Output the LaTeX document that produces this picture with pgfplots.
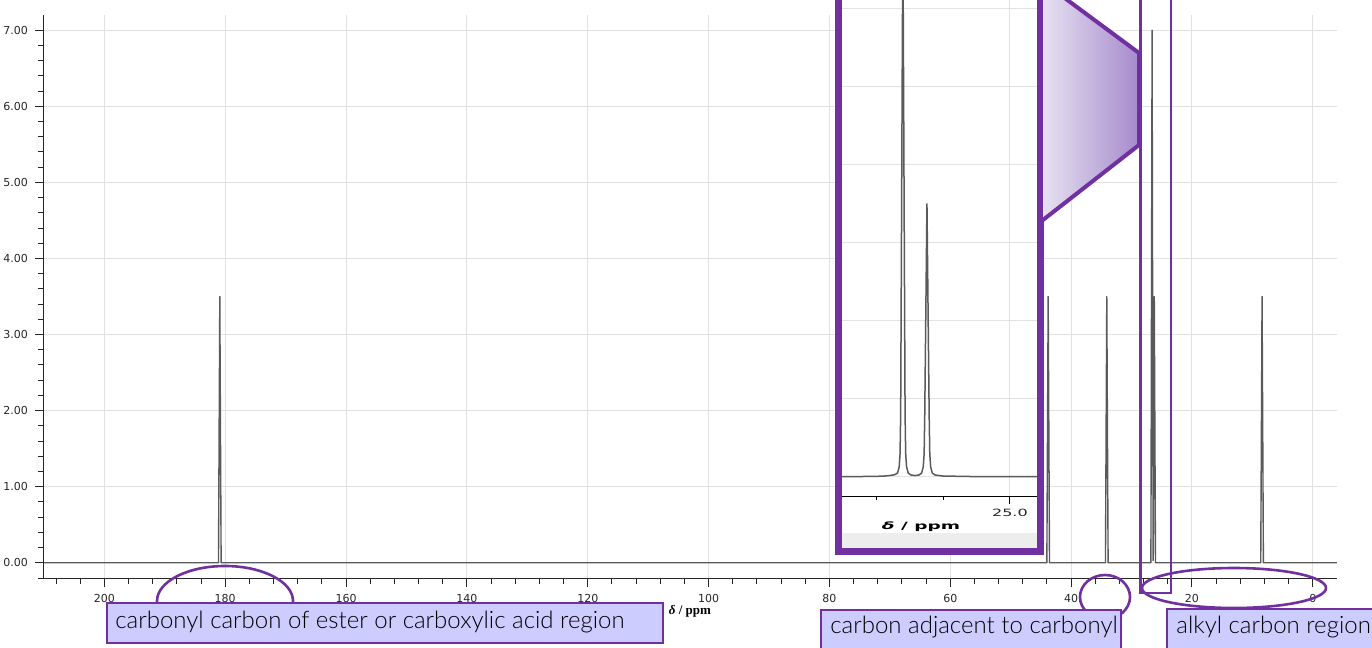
\documentclass[border=0pt]{standalone}
\usepackage{graphicx}
\usepackage{pgfplots}
\pgfplotsset{compat=1.18}
\usepackage{fontspec}
\setmainfont{Lato}
\newfontfamily\boxfont{Lato Light}
\newfontfamily\tickfont{DejaVu Sans}
\newfontfamily\labelserif{Liberation Serif}

\definecolor{annot}{RGB}{112,48,160}
\definecolor{boxfill}{RGB}{204,204,255}
\definecolor{spec}{RGB}{90,90,90}
\definecolor{gridc}{RGB}{226,226,226}
\definecolor{lavl}{RGB}{230,225,241}
\definecolor{lavr}{RGB}{166,138,204}

\begin{document}
\begin{tikzpicture}
\useasboundingbox (0,0) rectangle (686pt,-324pt);
\clip (0,0) rectangle (686pt,-324pt);

% 13C spectrum, full range
\begin{axis}[
  at={(22pt,-289pt)}, anchor=south west,
  width=646.5pt, height=281.5pt, scale only axis,
  xmin=-4, xmax=210, ymin=-0.2, ymax=7.2,
  x dir=reverse,
  axis x line*=bottom, axis y line*=left,
  axis line style={black!85, line width=0.5pt},
  xtick={0,20,...,200},
  minor xtick={4,8,...,208},
  ytick={0,1,...,7},
  minor ytick={-0.2,0.2,0.4,0.6,0.8,1.2,1.4,1.6,1.8,2.2,2.4,2.6,2.8,3.2,3.4,3.6,3.8,4.2,4.4,4.6,4.8,5.2,5.4,5.6,5.8,6.2,6.4,6.6,6.8},
  tick align=outside,
  major tick length=4.5pt, minor tick length=3pt,
  every tick/.style={black!85, line width=0.5pt},
  xmajorgrids, ymajorgrids,
  major grid style={gridc, line width=0.5pt},
  tick label style={font=\tickfont\fontsize{5.5}{6}\selectfont, text=black!85},
  /pgf/number format/assume math mode=true,
  yticklabel style={/pgf/number format/fixed, /pgf/number format/fixed zerofill, /pgf/number format/precision=2},
  xticklabel style={/pgf/number format/fixed, /pgf/number format/precision=0},
]
\addplot[spec, line width=0.7pt, line join=round] coordinates {
  (210,0) (181.12,0) (180.9,3.5) (180.68,0)
  (44.02,0) (43.8,3.5) (43.58,0)
  (34.32,0) (34.1,3.5) (33.88,0)
  (26.8,0) (26.6,7.0) (26.43,0.03) (26.42,0.03) (26.24,3.5) (26.04,0)
  (8.62,0) (8.4,3.5) (8.18,0) (-4,0)
};
\end{axis}

% expanded view panel
\begin{scope}[x=0.5pt,y=-0.5pt]
  \fill[white] (838,-40) rectangle (1041,552);
  \fill[black!7] (842,533) rectangle (1038,549);
\end{scope}

\begin{axis}[
  at={(421pt,-248pt)}, anchor=south west,
  width=98pt, height=258pt, scale only axis,
  xmin=24.58, xmax=27.51, x dir=reverse,
  ymin=-0.244, ymax=6.37,
  axis x line*=bottom, axis y line*=left,
  y axis line style={draw=none},
  x axis line style={black, line width=0.5pt},
  xtick={25}, minor xtick={26,27},
  xticklabels={\scalebox{1.6}[1]{25.0}},
  ytick={0,...,6}, yticklabels={}, ytick style={draw=none},
  tick align=outside, major tick length=4pt, minor tick length=2pt,
  every tick/.style={black, line width=0.5pt},
  xmajorgrids, ymajorgrids,
  major grid style={gridc, line width=0.5pt},
  xticklabel style={font=\tickfont\fontsize{5}{6}\selectfont, text=black!85, yshift=1pt},
]
\addplot[spec, line width=0.75pt, line join=round] coordinates {
  (27.51,0.004) (27.2,0.006) (26.9,0.01) (26.78,0.02) (26.72,0.03)
  (26.68,0.05) (26.655,0.13) (26.642,0.3) (26.633,0.8) (26.6,7.0)
  (26.567,0.8) (26.558,0.3) (26.545,0.13) (26.52,0.05) (26.48,0.025)
  (26.42,0.018) (26.36,0.025) (26.32,0.05) (26.295,0.13) (26.282,0.3)
  (26.273,0.8) (26.24,3.5) (26.207,0.8) (26.198,0.3) (26.185,0.13)
  (26.16,0.05) (26.12,0.025) (26.0,0.012) (25.6,0.006) (24.58,0.004)
};
\end{axis}

\begin{scope}[x=0.5pt,y=-0.5pt]
  % panel frame and caption
  \node[inner sep=0, font=\tickfont\bfseries\fontsize{5}{6}\selectfont] at (921,527)
    {\scalebox{1.85}[1]{\textit{δ} / ppm}};
  \draw[annot, line width=3.25pt] (838.5,-40) rectangle (1040.5,551.5);
  % callout linking panel to the selected peaks
  \shade[left color=lavl, right color=lavr] (1043,-18) -- (1139,53) -- (1139,145) -- (1043,220) -- cycle;
  \draw[annot, line width=2pt, line join=miter] (1041,-19.5) -- (1139,53) -- (1139,145) -- (1041,221.5);
  \draw[annot, line width=1.05pt] (1140.5,-10) rectangle (1171,593);
  % region markers
  \draw[annot, line width=1.3pt] (225,601) ellipse [x radius=68, y radius=35];
  \draw[annot, line width=1.3pt] (1105,597) ellipse [x radius=25, y radius=22];
  \draw[annot, line width=1.3pt] (1234,588) ellipse [x radius=92, y radius=20];
  % axis title
  \node[inner sep=0, font=\labelserif\bfseries\fontsize{6.5}{7}\selectfont] at (690,611)
    {\textit{δ} / ppm};
  % region labels
  \draw[annot, fill=boxfill, line width=0.8pt] (107,603) rectangle (663,643);
  \node[anchor=base west, inner sep=0, font=\boxfont\fontsize{12}{14}\selectfont] at (115,628)
    {carbonyl carbon of ester or carboxylic acid region};
  \draw[annot, fill=boxfill, line width=0.8pt] (821,610) rectangle (1121,660);
  \node[anchor=base west, inner sep=0, font=\boxfont\fontsize{12}{14}\selectfont] at (830,633)
    {carbon adjacent to carbonyl};
  \draw[annot, fill=boxfill, line width=0.8pt] (1167,609) rectangle (1385,660);
  \node[anchor=base west, inner sep=0, font=\boxfont\fontsize{12}{14}\selectfont] at (1176,633)
    {alkyl carbon region};
\end{scope}
\end{tikzpicture}
\end{document}
